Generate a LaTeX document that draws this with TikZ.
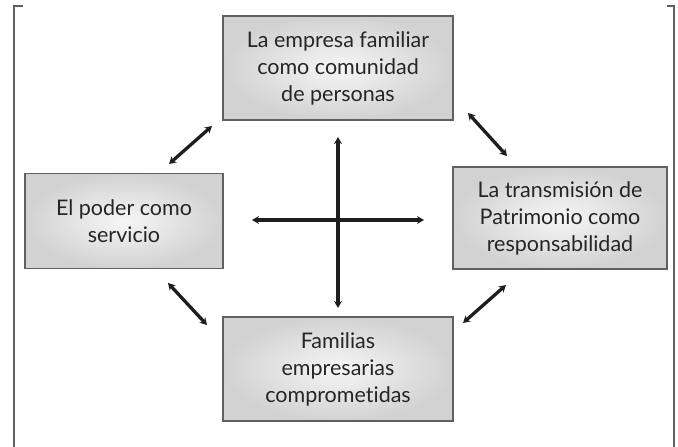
\documentclass[tikz,border=0pt]{standalone}
\usepackage{fontspec}
\setmainfont{Lato}[Ligatures=NoCommon]
\usetikzlibrary{arrows.meta,shadings}
\definecolor{boxedge}{HTML}{606060}
\definecolor{boxout}{HTML}{D2D2D2}
\definecolor{boxin}{HTML}{F6F6F6}
\definecolor{arr}{HTML}{1E1E1E}
\tikzset{
  box/.style={draw=boxedge, line width=1.3pt, inner color=boxin, outer color=boxout,
    align=center, font=\fontsize{21.5}{27}\selectfont, text=black!85, inner sep=0pt},
  dbl/.style={arr, line width=3.3pt, {Stealth[length=7pt,width=8pt]}-{Stealth[length=7pt,width=8pt]}},
  frame/.style={draw=boxedge, line width=1.3pt}
}
\begin{document}
\begin{tikzpicture}[x=1pt,y=-1pt]
\useasboundingbox (0,0) rectangle (678,447);
% frame
\coordinate (fl0) at (23,6); \coordinate (fl1) at (14,6); \coordinate (fl2) at (14,447);
\coordinate (fr0) at (667,6); \coordinate (fr1) at (674,6); \coordinate (fr2) at (674,447);
\draw[frame] (fl0) -- (fl1) -- (fl2);
\draw[frame] (fr0) -- (fr1) -- (fr2);
% boxes
\node[box, minimum width=230pt, minimum height=104pt] (top) at (338,68) {La empresa familiar\\como comunidad\\de personas};
\node[box, minimum width=198pt, minimum height=95pt] (left) at (124,221) {El poder como\\servicio};
\node[box, minimum width=214pt, minimum height=102pt] (right) at (560,218) {La transmisión de\\Patrimonio como\\responsabilidad};
\node[box, minimum width=230pt, minimum height=104pt] (bottom) at (338,369) {Familias\\empresarias\\comprometidas};
% cross
\coordinate (vt) at (338,137); \coordinate (vb) at (338,308);
\coordinate (hl) at (252,220); \coordinate (hr) at (424,220);
\draw[dbl] (vt) -- (vb);
\draw[dbl] (hl) -- (hr);
% diagonals
\coordinate (a1) at (169,164); \coordinate (a2) at (212,126);
\coordinate (b1) at (468,113); \coordinate (b2) at (507,156);
\coordinate (c1) at (168,283); \coordinate (c2) at (207,325);
\coordinate (d1) at (463,323); \coordinate (d2) at (506,285);
\draw[dbl] (a1) -- (a2);
\draw[dbl] (b1) -- (b2);
\draw[dbl] (c1) -- (c2);
\draw[dbl] (d1) -- (d2);
\end{tikzpicture}
\end{document}
